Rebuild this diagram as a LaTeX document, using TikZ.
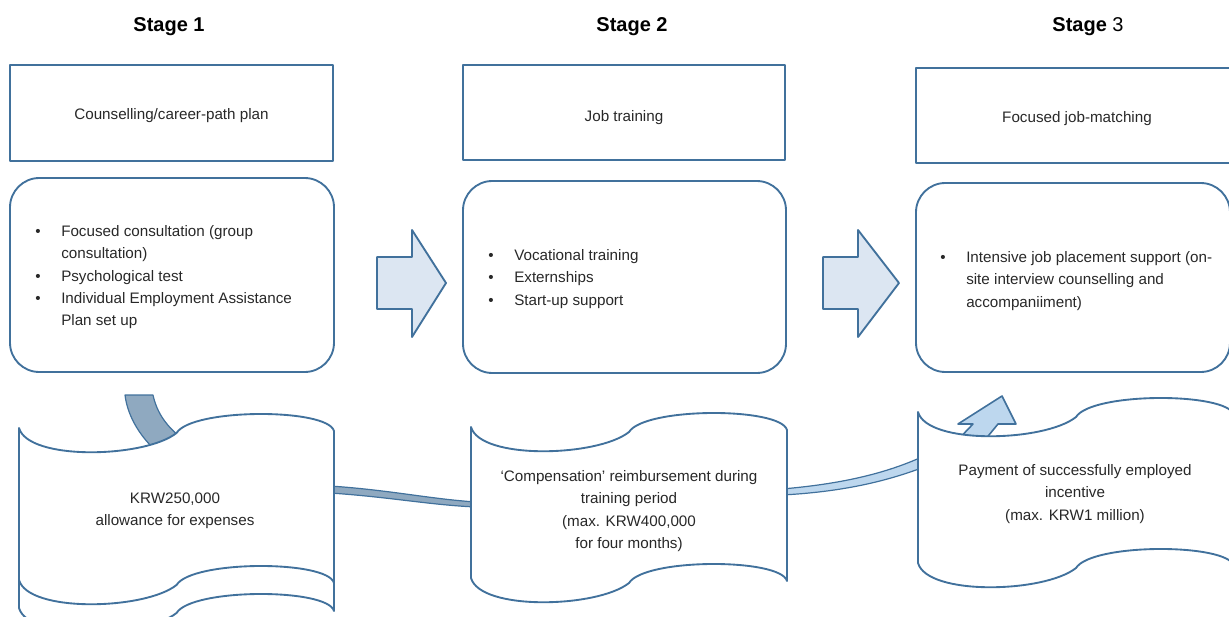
\documentclass[tikz,border=0pt]{standalone}
\usepackage{fontspec}
\setmainfont{Liberation Sans}

\definecolor{lineblue}{RGB}{65,113,156}
\definecolor{arrowfill}{RGB}{220,230,242}
\definecolor{bandgray}{RGB}{143,169,192}
\definecolor{bandblue}{RGB}{189,215,238}
\definecolor{txtgray}{RGB}{40,40,40}

\newcommand{\bul}{\makebox[19.5pt][l]{\textbullet}}
\newcommand{\ind}{\hspace*{19.5pt}}

\newcommand{\scrollbox}[4]{%
\draw [scrollline] ({#1},{#2}) .. controls ({#1+0.03*#3},{#2+33}) and ({#1+0.4*#3},{#2+30}) .. ({#1+0.5*#3},{#2+5})
  .. controls ({#1+0.55*#3},{#2-20}) and ({#1+0.98*#3},{#2-20}) .. ({#1+#3},{#2+3})
  -- ({#1+#3},{#2+#4+3})
  .. controls ({#1+0.98*#3},{#2+#4-20}) and ({#1+0.55*#3},{#2+#4-20}) .. ({#1+0.5*#3},{#2+#4+5})
  .. controls ({#1+0.4*#3},{#2+#4+30}) and ({#1+0.03*#3},{#2+#4+33}) .. ({#1},{#2+#4}) -- cycle;}

\newcommand{\blockarrow}[3]{%
\draw [bigarrow] (#1,257) -- (#2,257) -- (#2,230) -- (#3,283) -- (#2,337) -- (#2,309) -- (#1,309) -- cycle;}

\begin{document}
\begin{tikzpicture}[x=0.75pt,y=-0.75pt,line join=round,
  every node/.style={inner sep=0,text=txtgray,font=\fontsize{11.4}{16.8}\selectfont},
  stagehead/.style={text=black,font=\fontsize{15}{18}\selectfont},
  list/.style={anchor=north west,align=left},
  boxline/.style={draw=lineblue,line width=1.4pt},
  roundbox/.style={draw=lineblue,line width=1.4pt,rounded corners=22pt},
  scrollline/.style={draw=lineblue,line width=1.4pt,fill=white},
  bigarrow/.style={draw=lineblue,line width=1.4pt,fill=arrowfill},
  band/.style={draw=lineblue,line width=0.9pt}]

\useasboundingbox (0,0) rectangle (1229,617);

\node [stagehead] (stage1) at (169,27) {\textbf{Stage 1}};

\node [stagehead] (stage2) at (632,27) {\textbf{Stage 2}};

\node [stagehead] (stage3) at (1088,27) {\textbf{Stage} 3};

\draw [boxline] (10,65) rectangle (333,161);

\draw [boxline] (463,65) rectangle (785,160);

\draw [boxline] (916,68) rectangle (1235,163);

\node (plan) at (171.5,116) {Counselling/career-path plan};

\node (training) at (624,118) {Job training};

\node (matching) at (1077,119) {Focused job-matching};

\draw [roundbox] (10,178) rectangle (334,372);

\draw [roundbox] (463,181) rectangle (786,373);

\draw [roundbox] (916,183) rectangle (1230,372);

\node [list] (consult) at (35,225) {\bul Focused consultation (group\\\ind consultation)\\\bul Psychological test\\\bul Individual Employment Assistance\\\ind Plan set up};

\node [list] (vocation) at (488,249) {\bul Vocational training\\\bul Externships\\\bul Start-up support};

\node [list] (placement) at (940,251) {\bul Intensive job placement support (on-\\\ind site interview counselling and\\\ind accompaniiment)};

\blockarrow{377}{412}{446}

\blockarrow{823}{858}{899}

\draw [band,fill=bandgray] (125,395) -- (153,395) .. controls (158,418) and (172,432) .. (192,446) -- (170,462) .. controls (145,445) and (128,420) .. (125,395) -- cycle;

\draw [band,fill=bandgray] (330,486) .. controls (390,490) and (430,499) .. (476,502) -- (476,507) .. controls (430,505) and (390,497) .. (330,493) -- cycle;

\draw [band,fill=bandblue] (782,489) .. controls (840,484) and (885,474) .. (924,456) -- (924,467) .. controls (885,482) and (840,492) .. (782,495) -- cycle;

\draw [band,line width=1.2pt,fill=bandblue] (958,424) -- (1002,396) -- (1016,424) -- (998,424) -- (980,446) -- (952,446) -- (973,424) -- cycle;

\scrollbox{19}{456}{315}{152}

\scrollbox{19}{428}{315}{152}

\scrollbox{471}{427}{316}{151}

\scrollbox{918}{412}{316}{151}

\node [align=center] (allowance) at (175,511) {KRW250,000\\allowance for expenses};

\node [align=center] (compensation) at (629,511) {‘Compensation’ reimbursement during\\training period\\(max. KRW400,000\\for four months)};

\node [align=center] (incentive) at (1075,494) {Payment of successfully employed\\incentive\\(max. KRW1 million)};

\end{tikzpicture}
\end{document}
